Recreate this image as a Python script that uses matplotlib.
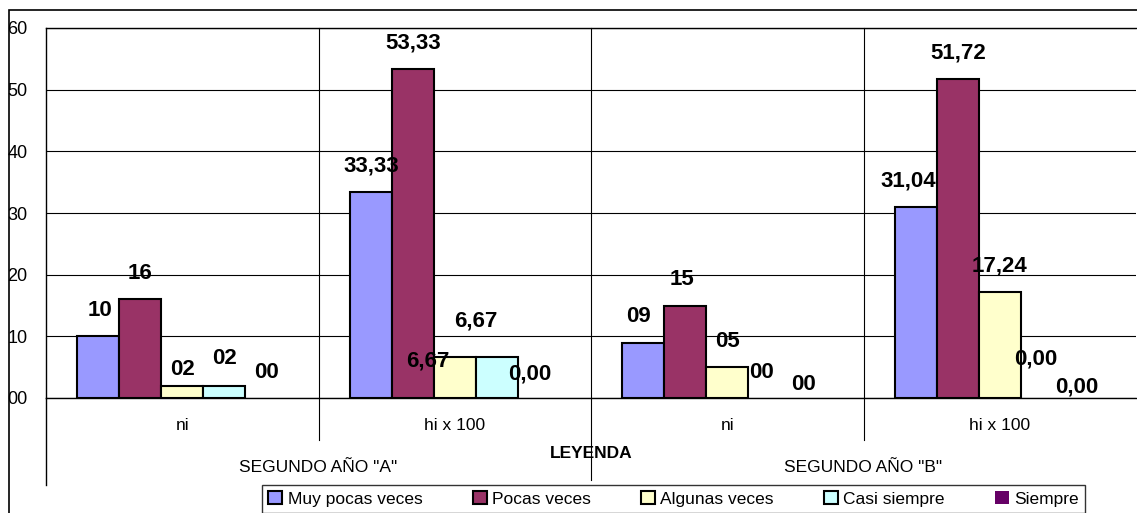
import matplotlib.pyplot as plt
from matplotlib.patches import Rectangle
import numpy as np

categorias = ['ni', 'hi x 100', 'ni', 'hi x 100']
grupos = ['SEGUNDO AÑO "A"', 'SEGUNDO AÑO "B"']
series = ['Muy pocas veces', 'Pocas veces', 'Algunas veces', 'Casi siempre', 'Siempre']

muy_pocas = [10, 33.33, 9, 31.04]
pocas = [16, 53.33, 15, 51.72]
algunas = [2, 6.67, 5, 17.24]
casi_siempre = [2, 6.67, 0, 0]
siempre = [0, 0, 0, 0]

colores = ['#9999FF', '#993366', '#FFFFCC', '#CCFFFF', '#660066']

# desplazamiento de etiquetas (px) distinto del estandar (0, 26)
desp_etiquetas = {
    (0, 0): (2, 26), (0, 2): (0, 16), (0, 3): (0, 27),
    (1, 2): (-27, -4), (1, 3): (-21, 36), (1, 4): (-9, 24),
    (2, 0): (-5, 26), (2, 1): (-3, 26), (2, 3): (-8, 26), (2, 4): (-8, 13),
    (3, 0): (-8, 26), (3, 3): (-6, 39), (3, 4): (-7, 11),
}

plt.rcParams['font.family'] = ['Liberation Sans', 'DejaVu Sans']

fig = plt.figure(figsize=(11.37, 5.13), dpi=100)
W, H = 1137, 513
ax = fig.add_axes([46 / W, 1 - 398 / H, (1136 - 46) / W, 370 / H])

# marco exterior
fig.patches.append(Rectangle((9 / W, -0.1), 1.2, 1 - 10 / H + 0.1, transform=fig.transFigure,
                             fill=False, edgecolor='black', lw=1.2))

datos = [muy_pocas, pocas, algunas, casi_siempre, siempre]
x = np.arange(len(categorias))
w = 0.1538
for i, (vals, col, nom) in enumerate(zip(datos, colores, series)):
    pos = x + (i - 2) * w
    anchos = [1.5 if v > 0 else 0 for v in vals]
    ax.bar(pos, vals, w, color=col, edgecolor='black', linewidth=anchos, label=nom, zorder=3)
    for j, v in enumerate(vals):
        if j % 2 == 0:
            txt = '%02d' % round(v)
        else:
            txt = ('%.2f' % v).replace('.', ',')
        dx, dy = desp_etiquetas.get((j, i), (0, 26))
        ax.annotate(txt, (pos[j], v), xytext=(dx, dy), textcoords='offset pixels',
                    ha='center', va='center', fontsize=16, fontweight='bold', zorder=5)

ax.set_xlim(-0.5, 3.5)
ax.set_ylim(0, 60)
ax.set_yticks(range(0, 61, 10))
ax.set_yticklabels(['%02d' % t for t in range(0, 61, 10)], fontsize=13)
ax.yaxis.set_tick_params(length=0, pad=2)
for t in ax.get_yticklabels():
    t.set_horizontalalignment('left')
    t.set_x(-36 / 1090)
ax.set_xticks([])
ax.grid(axis='y', color='black', lw=0.8, zorder=0)
for s in ['top', 'right', 'bottom']:
    ax.spines[s].set_visible(False)
ax.spines['left'].set_linewidth(1)

tr = ax.get_xaxis_transform()
ax.axhline(60, color='black', lw=1, zorder=1, clip_on=False)
ax.axhline(0, color='black', lw=1, zorder=4, clip_on=False)
for b in [0.5, 2.5]:
    ax.plot([b, b], [1, -42 / 370], color='black', lw=0.8, transform=tr, clip_on=False)
ax.plot([1.5, 1.5], [1, -82 / 370], color='black', lw=0.8, transform=tr, clip_on=False)
ax.plot([-0.5, -0.5], [0, -87 / 370], color='black', lw=1, transform=tr, clip_on=False)

for j, c in enumerate(categorias):
    ax.text(x[j], -27 / 370, c, transform=tr, ha='center', va='center', fontsize=12.5)
for k, g in enumerate(grupos):
    ax.text(2 * k + 0.5, -69 / 370, g, transform=tr, ha='center', va='center', fontsize=12.5)
ax.text(1.5, -55 / 370, 'LEYENDA', transform=tr, ha='center', va='center', fontsize=12.5,
        fontweight='bold')

leg = fig.legend(loc='upper center', bbox_to_anchor=((257 + 1090) / 2 / W, 1 - 485 / H),
                 ncol=5, frameon=True, fancybox=False, edgecolor='black',
                 prop={'size': 12.5}, handlelength=0.8, handleheight=0.8,
                 handletextpad=0.3, columnspacing=2.9, borderpad=0.35, borderaxespad=0)
leg.get_frame().set_linewidth(1)

fig.savefig('out.png', dpi=100)
